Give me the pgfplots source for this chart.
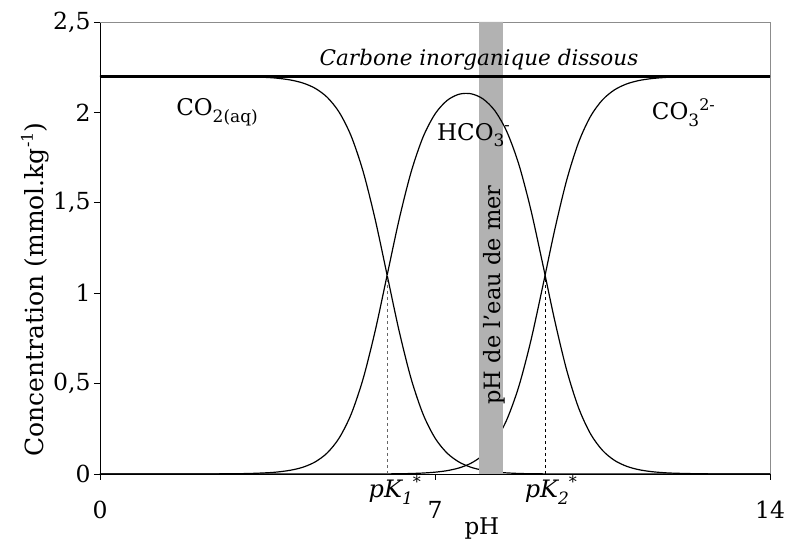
\documentclass[border=0pt]{standalone}
\usepackage{pgfplots}
\pgfplotsset{compat=1.18}
\usepackage{fontspec}
\setmainfont{DejaVu Serif}
\newcommand{\sbs}[1]{\raisebox{-0.28em}{\fontsize{17pt}{20pt}\selectfont #1}}
\newcommand{\sps}[1]{\raisebox{0.42em}{\fontsize{16pt}{20pt}\selectfont #1}}
\begin{document}
\begin{tikzpicture}[font=\fontsize{23pt}{27pt}\selectfont]
\path[use as bounding box] (-100pt,-66pt) rectangle (690pt,474pt);
\begin{axis}[
  at={(0,0)}, anchor=south west,
  scale only axis, width=670pt, height=452pt,
  xmin=0, xmax=14, ymin=0, ymax=2.5,
  clip=false,
  separate axis lines,
  x axis line style={black, line width=0.8pt},
  y axis line style={black, line width=0.8pt},
  axis x line*=bottom, axis y line*=left,
  xtick={0,7,14}, xticklabels={0,7,14},
  ytick={0,0.5,1,1.5,2,2.5},
  yticklabels={0,{0,5},1,{1,5},2,{2,5}},
  tick style={black, line width=0.8pt},
  xtick align=outside, ytick align=outside,
  major tick length=6pt,
  xticklabel style={yshift=-18pt},
  tick label style={font=\fontsize{23.5pt}{27pt}\selectfont},
  /pgf/number format/assume math mode=true,
]
% frame top/right
\addplot[black!45, line width=0.8pt] coordinates {(0,2.5) (14,2.5) (14,0)};
% CO2(aq)
\addplot[black, line width=1.2pt, smooth] coordinates {
(0,2.2) (1,2.2) (2,2.1998) (3,2.1978) (3.5,2.1931) (3.75,2.1877) (4,2.1782) (4.25,2.1616) (4.5,2.1326) (4.75,2.0829)
(5,2.0) (5.25,1.8678) (5.5,1.6714) (5.75,1.4081) (6,1.0997) (6.25,0.7914) (6.5,0.5279) (6.75,0.3314)
(7,0.1991) (7.25,0.1162) (7.5,0.0664) (7.75,0.0374) (8,0.0208) (8.25,0.0113) (8.5,0.0060) (8.75,0.0030)
(9,0.0015) (9.5,0.0003) (10,0) (14,0)};
% CO3 2-
\addplot[black, line width=1.2pt, smooth] coordinates {
(0,0) (5,0) (5.75,0.0002) (6,0.0006) (6.25,0.0013) (6.5,0.0027) (6.75,0.0053)
(7,0.0100) (7.25,0.0184) (7.5,0.0333) (7.75,0.0593) (8,0.1040) (8.25,0.1791) (8.5,0.3002) (8.75,0.4831)
(9,0.7340) (9.25,1.0364) (9.5,1.3487) (9.75,1.6238) (10,1.8340) (10.25,1.9781) (10.5,2.0694) (10.75,2.1246)
(11,2.1570) (11.25,2.1756) (11.5,2.1862) (11.75,2.1922) (12,2.1956) (12.5,2.1986) (13,2.1996) (14,2.2)};
% seawater pH band
\addplot[fill=black!30, draw=none] coordinates {(7.92,0) (8.42,0) (8.42,2.5) (7.92,2.5)} \closedcycle;
% HCO3-
\addplot[black, line width=1.2pt, smooth] coordinates {
(0,0) (2,0.0002) (3,0.0022) (3.5,0.0069) (3.75,0.0123) (4,0.0218) (4.25,0.0384) (4.5,0.0674) (4.75,0.1171)
(5,0.2) (5.25,0.3322) (5.5,0.5286) (5.75,0.7918) (6,1.0997) (6.25,1.4074) (6.5,1.6694) (6.75,1.8634)
(7,1.9909) (7.25,2.0655) (7.5,2.1003) (7.75,2.1033) (8,2.0752) (8.25,2.0096) (8.5,1.8939) (8.75,1.7139)
(9,1.4645) (9.25,1.1629) (9.5,0.8510) (9.75,0.5761) (10,0.3659) (10.25,0.2219) (10.5,0.1306) (10.75,0.0754)
(11,0.0430) (11.25,0.0244) (11.5,0.0138) (11.75,0.0078) (12,0.0044) (12.5,0.0014) (13,0.0004) (14,0)};
\node[anchor=west, inner sep=0pt] at (axis cs:7.04,1.875) {HCO\sbs{3}\sps{-}};
% DIC
\addplot[black, line width=3.3pt] coordinates {(0,2.2) (14,2.2)};
% dashed pK lines
\addplot[black!60, dashed, line width=0.8pt] coordinates {(6.0,0) (6.0,1.1)};
\addplot[black, dashed, line width=0.8pt] coordinates {(9.3,0) (9.3,1.08)};
% labels
\node[rotate=90, font=\fontsize{22.5pt}{26pt}\selectfont] at (axis cs:8.23,0.99) {pH de l'eau de mer};
\node[font=\fontsize{21.5pt}{26pt}\selectfont\itshape] at (axis cs:7.92,2.29) {Carbone inorganique dissous};
\node[anchor=west, inner sep=0pt] at (axis cs:1.59,2.0) {CO\sbs{2(aq)}};
\node[anchor=west, inner sep=0pt] at (axis cs:11.53,2.0) {CO\sbs{3}\sps{2-}};
\node[font=\fontsize{24pt}{28pt}\selectfont\itshape] at (axis cs:6.16,-0.09) {pK\sbs{1}\sps{*}};
\node[font=\fontsize{24pt}{28pt}\selectfont\itshape] at (axis cs:9.42,-0.09) {pK\sbs{2}\sps{*}};
\node at (axis cs:7.98,-0.30) {pH};
\node[rotate=90, font=\fontsize{25pt}{29pt}\selectfont] at (axis cs:-1.36,1.02) {Concentration (mmol.kg\sps{-1})};
\end{axis}
\end{tikzpicture}
\end{document}
